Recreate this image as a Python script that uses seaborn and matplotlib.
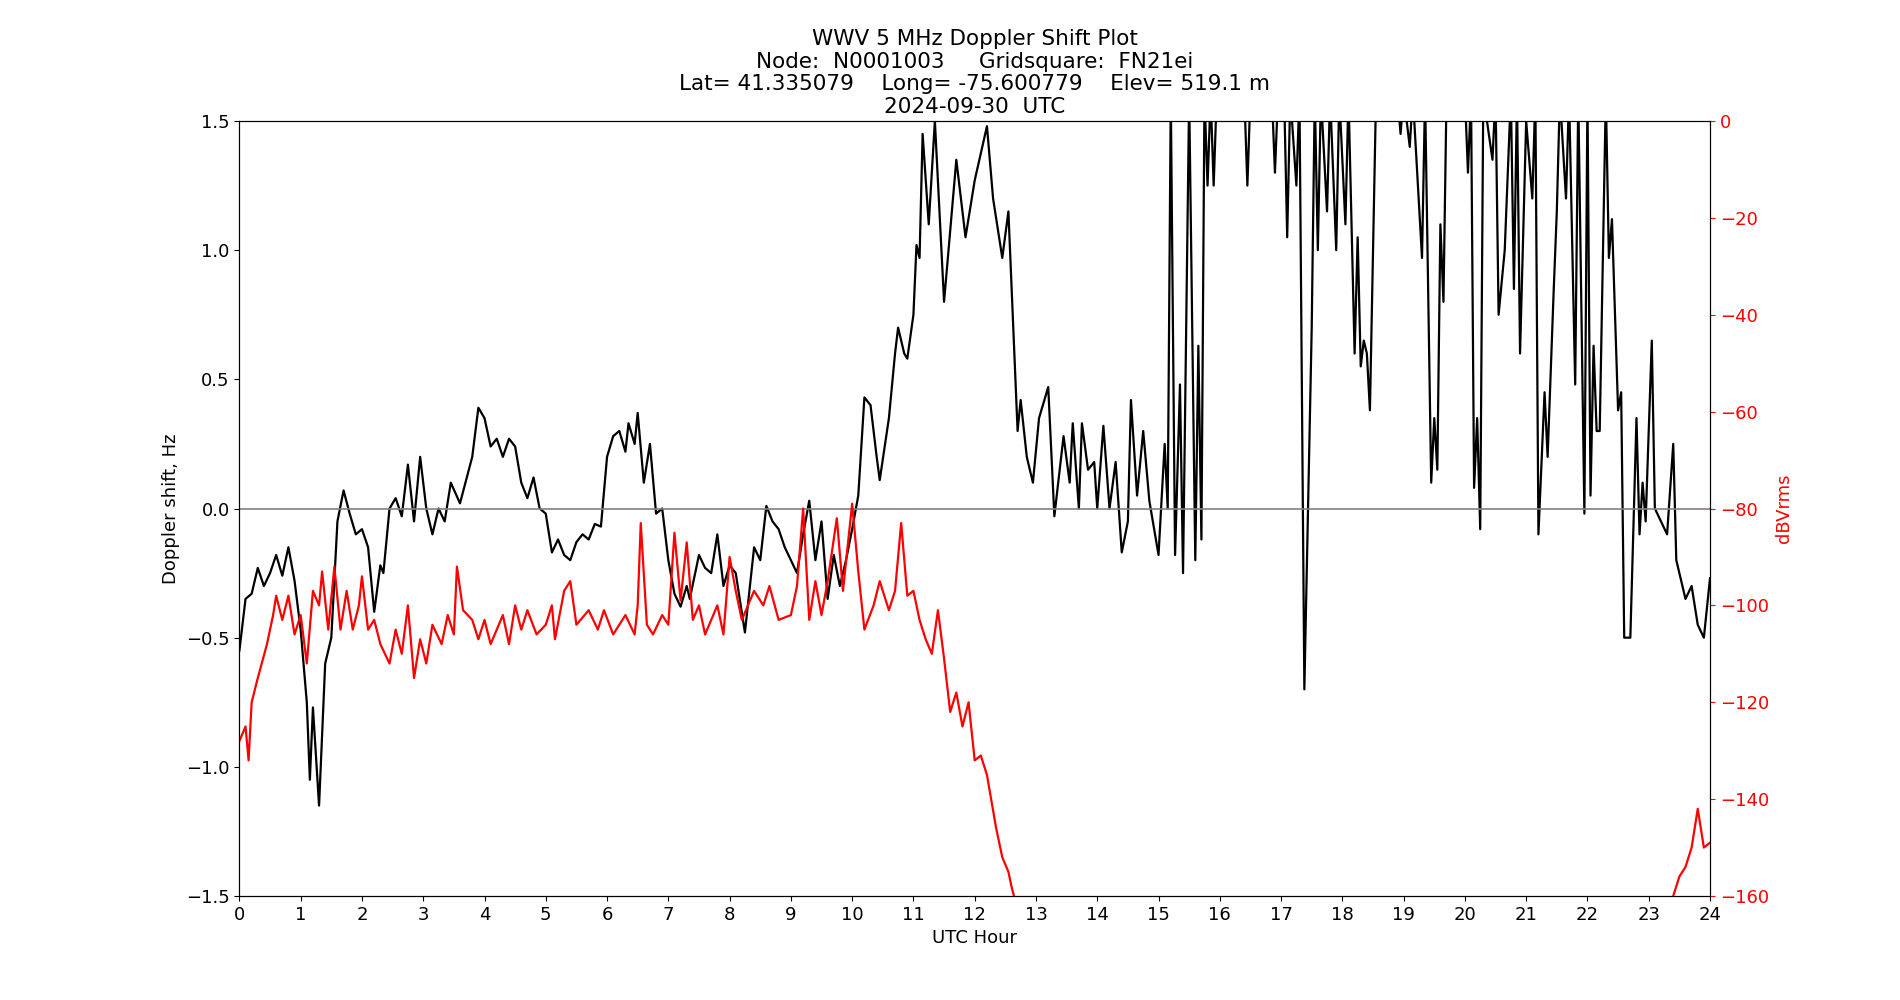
import numpy as np
import pandas as pd
import matplotlib
matplotlib.use("Agg")
import matplotlib.pyplot as plt
import seaborn as sns

# Doppler shift (Hz) vs UTC hour (1.6 = off the top)
dop_t = [0, 0.1, 0.2, 0.3, 0.4, 0.5, 0.6, 0.7, 0.8, 0.9, 1.0, 1.1, 1.15, 1.2, 1.3, 1.4, 1.5, 1.6,
         1.7, 1.8, 1.9, 2.0, 2.1, 2.2, 2.3, 2.35, 2.45, 2.55, 2.65, 2.75, 2.85, 2.95, 3.05, 3.15,
         3.25, 3.35, 3.45, 3.6, 3.8, 3.9, 4.0, 4.1, 4.2, 4.3, 4.4, 4.5, 4.6, 4.7, 4.8, 4.9, 5.0,
         5.1, 5.2, 5.3, 5.4, 5.5, 5.6, 5.7, 5.8, 5.9, 6.0, 6.1, 6.2, 6.3, 6.35, 6.45, 6.5, 6.6,
         6.7, 6.8, 6.9, 7.0, 7.1, 7.2, 7.3, 7.35, 7.5, 7.6, 7.7, 7.8, 7.9, 8.0, 8.1, 8.25, 8.4,
         8.5, 8.6, 8.7, 8.8, 8.9, 9.0, 9.1, 9.2, 9.3, 9.4, 9.5, 9.6, 9.7, 9.8, 9.9, 10.0, 10.1,
         10.2, 10.3, 10.4, 10.45, 10.6, 10.7, 10.75, 10.85, 10.9, 11.0, 11.05, 11.1, 11.15, 11.25,
         11.35, 11.5, 11.7, 11.85, 12.0, 12.2, 12.3, 12.45, 12.55, 12.7, 12.75, 12.85, 12.95,
         13.05, 13.2, 13.3, 13.45, 13.55, 13.6, 13.7, 13.75, 13.85, 13.95, 14.0, 14.1, 14.2, 14.3,
         14.4, 14.5, 14.55, 14.65, 14.75, 14.85, 15.0, 15.1, 15.15, 15.2, 15.27, 15.35, 15.4, 15.5,
         15.6, 15.65, 15.7, 15.75, 15.8, 15.85, 15.9, 15.95, 16.4, 16.45, 16.5, 16.85, 16.9, 16.95,
         17.05, 17.1, 17.15, 17.25, 17.3, 17.38, 17.5, 17.55, 17.6, 17.65, 17.75, 17.8, 17.9,
         17.95, 18.05, 18.1, 18.2, 18.25, 18.3, 18.35, 18.4, 18.45, 18.55, 18.9, 18.95, 19.0, 19.1,
         19.15, 19.3, 19.35, 19.45, 19.5, 19.55, 19.6, 19.65, 19.7, 20.0, 20.05, 20.1, 20.15, 20.2,
         20.25, 20.3, 20.45, 20.5, 20.55, 20.65, 20.75, 20.8, 20.85, 20.9, 21.0, 21.1, 21.15, 21.2,
         21.3, 21.35, 21.45, 21.5, 21.55, 21.65, 21.7, 21.8, 21.85, 21.95, 22.0, 22.05, 22.1, 22.15,
         22.2, 22.3, 22.35, 22.4, 22.5, 22.55, 22.6, 22.7, 22.8, 22.85, 22.9, 22.95, 23.05, 23.1,
         23.2, 23.3, 23.4, 23.45, 23.5, 23.6, 23.7, 23.8, 23.9, 24.0]
dop_hz = [-0.55, -0.35, -0.33, -0.23, -0.3, -0.25, -0.18, -0.26, -0.15, -0.28, -0.47, -0.75, -1.05,
          -0.77, -1.15, -0.6, -0.5, -0.05, 0.07, -0.02, -0.1, -0.08, -0.15, -0.4, -0.22, -0.25, 0.0,
          0.04, -0.03, 0.17, -0.05, 0.2, 0.0, -0.1, 0.0, -0.05, 0.1, 0.02, 0.2, 0.39, 0.35, 0.24,
          0.27, 0.2, 0.27, 0.24, 0.1, 0.04, 0.12, 0.0, -0.02, -0.17, -0.12, -0.18, -0.2, -0.13, -0.1,
          -0.12, -0.06, -0.07, 0.2, 0.28, 0.3, 0.22, 0.33, 0.25, 0.37, 0.1, 0.25, -0.02, 0.0, -0.2,
          -0.33, -0.38, -0.3, -0.35, -0.18, -0.23, -0.25, -0.1, -0.3, -0.22, -0.25, -0.48, -0.15,
          -0.2, 0.01, -0.05, -0.08, -0.15, -0.2, -0.25, -0.1, 0.03, -0.2, -0.05, -0.35, -0.18, -0.3,
          -0.2, -0.08, 0.05, 0.43, 0.4, 0.2, 0.11, 0.35, 0.6, 0.7, 0.6, 0.58, 0.75, 1.02, 0.97, 1.45,
          1.1, 1.5, 0.8, 1.35, 1.05, 1.27, 1.48, 1.2, 0.97, 1.15, 0.3, 0.42, 0.2, 0.1, 0.35, 0.47,
          -0.03, 0.28, 0.1, 0.33, 0.0, 0.33, 0.15, 0.18, 0.0, 0.32, 0.0, 0.18, -0.17, -0.05, 0.42,
          0.05, 0.3, 0.03, -0.18, 0.25, 0.0, 1.6, -0.18, 0.48, -0.25, 1.6, -0.2, 0.63, -0.12, 1.6,
          1.25, 1.6, 1.25, 1.6, 1.6, 1.25, 1.6, 1.6, 1.3, 1.6, 1.6, 1.05, 1.6, 1.25, 1.6, -0.7, 0.7,
          1.6, 1.0, 1.6, 1.15, 1.6, 1.0, 1.6, 1.1, 1.6, 0.6, 1.05, 0.55, 0.65, 0.6, 0.38, 1.6, 1.6,
          1.45, 1.6, 1.4, 1.6, 0.97, 1.6, 0.1, 0.35, 0.15, 1.1, 0.8, 1.6, 1.6, 1.3, 1.6, 0.08, 0.35,
          -0.08, 1.6, 1.35, 1.6, 0.75, 1.0, 1.6, 0.85, 1.6, 0.6, 1.5, 1.2, 1.6, -0.1, 0.45, 0.2, 0.85,
          1.15, 1.6, 1.2, 1.6, 0.48, 1.6, -0.02, 1.6, 0.05, 0.63, 0.3, 0.3, 1.6, 0.97, 1.12, 0.38,
          0.45, -0.5, -0.5, 0.35, -0.1, 0.1, -0.05, 0.65, 0.0, -0.05, -0.1, 0.25, -0.2, -0.25, -0.35,
          -0.3, -0.45, -0.5, -0.27]

# Received power (dBVrms), off the bottom between ~12.8 and ~23.3 h
pwr_t = [0, 0.1, 0.15, 0.2, 0.3, 0.45, 0.55, 0.6, 0.7, 0.8, 0.9, 1.0, 1.1, 1.2, 1.3, 1.35, 1.45,
         1.55, 1.65, 1.75, 1.85, 1.95, 2.0, 2.1, 2.2, 2.3, 2.45, 2.55, 2.65, 2.75, 2.85, 2.95, 3.05,
         3.15, 3.3, 3.4, 3.5, 3.55, 3.65, 3.8, 3.9, 4.0, 4.1, 4.3, 4.4, 4.5, 4.6, 4.7, 4.85, 5.0,
         5.1, 5.15, 5.3, 5.4, 5.5, 5.7, 5.85, 5.95, 6.1, 6.3, 6.45, 6.5, 6.55, 6.65, 6.75, 6.9, 7.0,
         7.1, 7.2, 7.3, 7.4, 7.5, 7.6, 7.8, 7.9, 8.0, 8.1, 8.2, 8.4, 8.55, 8.65, 8.8, 9.0, 9.1, 9.2,
         9.3, 9.4, 9.5, 9.6, 9.75, 9.85, 10.0, 10.1, 10.2, 10.35, 10.45, 10.6, 10.7, 10.8, 10.9,
         11.0, 11.1, 11.2, 11.3, 11.4, 11.5, 11.6, 11.7, 11.8, 11.9, 12.0, 12.1, 12.2, 12.35, 12.45,
         12.55, 12.6, 12.7, 12.8, 23.3, 23.4, 23.5, 23.6, 23.7, 23.8, 23.9, 24.0]
pwr_db = [-128, -125, -132, -120, -115, -108, -102, -98, -103, -98, -106, -102, -112, -97, -100,
          -93, -105, -92, -105, -97, -105, -100, -94, -105, -103, -108, -112, -105, -110, -100, -115,
          -107, -112, -104, -108, -102, -106, -92, -101, -103, -107, -103, -108, -102, -108, -100,
          -105, -101, -106, -104, -100, -107, -97, -95, -104, -101, -105, -101, -106, -102, -106,
          -100, -83, -104, -106, -102, -104, -85, -99, -87, -103, -100, -106, -100, -106, -90, -97,
          -103, -97, -100, -96, -103, -102, -96, -80, -103, -95, -102, -95, -82, -97, -79, -93,
          -105, -100, -95, -101, -97, -83, -98, -97, -103, -107, -110, -101, -111, -122, -118, -125,
          -120, -132, -131, -135, -146, -152, -155, -158, -163, -175, -175, -160, -156, -154, -150,
          -142, -150, -149]

hours = list(range(0, 25))

fig, ax = plt.subplots(figsize=(19, 10), dpi=100)
fig.subplots_adjust(left=0.126, right=0.9, top=0.879, bottom=0.104)

sns.lineplot(x=dop_t, y=dop_hz, ax=ax, color='black', linewidth=1.6, sort=False)
ax.axhline(0, color='gray', linewidth=1.2)
ax.set_xlim(0, 24)
ax.set_ylim(-1.5, 1.5)
ax.set_xticks(hours)
ax.set_yticks([-1.5, -1.0, -0.5, 0.0, 0.5, 1.0, 1.5])
ax.set_xlabel('UTC Hour', fontsize=13)
ax.set_ylabel('Doppler shift, Hz', fontsize=13)
ax.tick_params(labelsize=13)
ax.set_title('WWV 5 MHz Doppler Shift Plot\nNode:  N0001003     Gridsquare:  FN21ei\n'
             'Lat= 41.335079    Long= -75.600779    Elev= 519.1 m\n2024-09-30  UTC',
             fontsize=15.5, linespacing=1.15)

ax2 = ax.twinx()
sns.lineplot(x=pwr_t, y=pwr_db, ax=ax2, color='red', linewidth=1.6, sort=False)
ax2.set_ylim(-160, 0)
ax2.set_ylabel('dBVrms', color='red', fontsize=13)
ax2.tick_params(axis='y', colors='red', labelsize=13)

plt.savefig("out.png")
